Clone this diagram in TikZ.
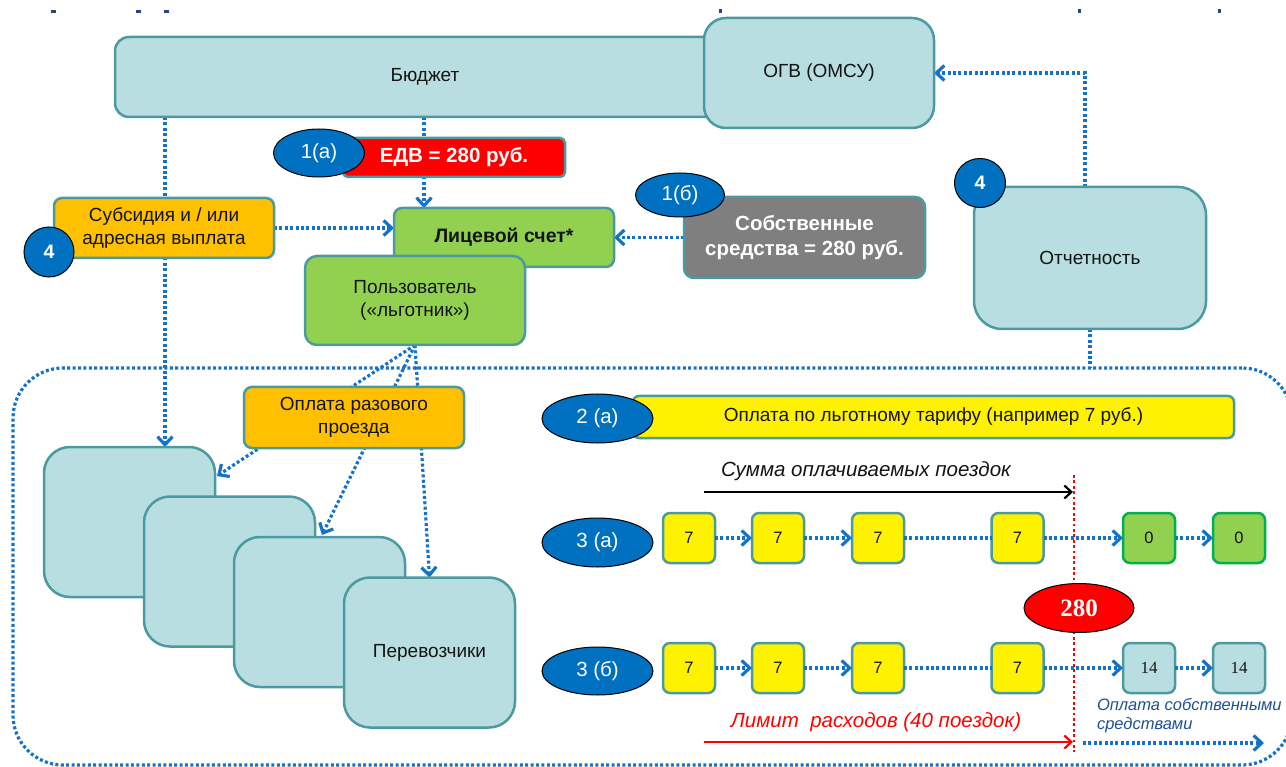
\documentclass[tikz,border=0pt]{standalone}
\usepackage{fontspec}
\setmainfont{Liberation Sans}
\newfontfamily\numserif{Liberation Serif}
\usetikzlibrary{arrows.meta,shapes.geometric}
\definecolor{lcyan}{RGB}{185,222,225}
\definecolor{tealb}{RGB}{75,154,160}
\definecolor{cblue}{RGB}{20,115,200}
\definecolor{eblue}{RGB}{0,112,192}
\definecolor{lgreen}{RGB}{146,208,80}
\definecolor{dgreen}{RGB}{0,176,80}
\definecolor{orng}{RGB}{255,192,0}
\definecolor{gry}{RGB}{127,127,127}
\definecolor{ownblue}{RGB}{31,80,150}
\definecolor{fragc}{RGB}{40,70,120}
\definecolor{txt}{RGB}{20,20,20}
\pgfdeclarelayer{bg}
\pgfsetlayers{bg,main}
\tikzset{
  every node/.style={inner sep=0pt, outer sep=0pt, align=center, text=txt,
    font=\fontsize{19}{23}\selectfont},
  tbox/.style={draw=tealb, line width=2.5pt, fill=lcyan},
  gbox/.style={draw=tealb, line width=2.5pt, fill=lgreen},
  obox/.style={draw=tealb, line width=2.5pt, fill=orng, rounded corners=8pt},
  ell/.style={ellipse, draw=black, line width=1pt, fill=eblue, text=white,
    font=\fontsize{20.5}{24}\selectfont},
  sbox/.style={draw=tealb, line width=2.5pt, rounded corners=7pt,
    minimum width=52pt, minimum height=50pt, font=\fontsize{16.5}{19}\selectfont},
  ybox/.style={sbox, fill=yellow},
  zbox/.style={sbox, fill=lgreen, draw=dgreen},
  fbox/.style={sbox, fill=lcyan, font=\numserif\fontsize{17}{19}\selectfont},
  carrier/.style={tbox, rounded corners=26pt, minimum width=171pt, minimum height=150pt},
  dotline/.style={line width=3.2pt, dash pattern=on 3pt off 2.4pt},
  conn/.style={draw=cblue, dotline, -{Straight Barb[length=8pt,width=15pt]}},
  plain/.style={draw=cblue, dotline},
}
\begin{document}
\begin{tikzpicture}[x=1pt,y=-1pt]
\useasboundingbox (0,0) rectangle (1286,767);
% small fragments at the top edge
\fill[fragc] (51,10) rectangle (56,13);
\fill[fragc] (136,10) rectangle (141,13);
\fill[fragc] (164,10) rectangle (169,13);
\fill[fragc] (719,9) rectangle (722,13);
\fill[fragc] (1078,9) rectangle (1081,13);
\fill[fragc] (1218,9) rectangle (1221,13);

% region
\node[draw=cblue, dotline, rounded corners=50pt, minimum width=1279pt,
  minimum height=397pt] (reg) at (652.5,566.5) {};

% top part
\node[tbox, rounded corners=14pt, minimum width=620pt, minimum height=80pt] (bud) at (425,77) {Бюджет};
\node[tbox, rounded corners=22pt, minimum width=230pt, minimum height=110pt] (ogv) at (819,73) {ОГВ (ОМСУ)};
\node[draw=tealb, line width=2.5pt, fill=red, rounded corners=5pt, minimum width=222pt,
  minimum height=39pt, text=white, font=\fontsize{20.5}{24}\selectfont\bfseries] (edv) at (454,157.5) {ЕДВ = 280 руб.};
\node[ell, minimum width=91pt, minimum height=48pt] (e1a) at (319,153) {1(а)};
\node[gbox, rounded corners=8pt, minimum width=220pt, minimum height=59pt,
  font=\fontsize{19.5}{23}\selectfont\bfseries] (lic) at (504,237.5) {Лицевой счет*};
\node[gbox, rounded corners=12pt, minimum width=220pt, minimum height=89pt] (pol) at (415,300.5) {Пользователь\\(«льготник»)};
\node[obox, minimum width=220pt, minimum height=60pt] (sub) at (164,228) {Субсидия и / или\\адресная выплата};
\node[ell, minimum width=50pt, minimum height=50pt, font=\fontsize{19.5}{22}\selectfont\bfseries] (e4a) at (49,252) {4};
\node[draw=tealb, line width=2.5pt, fill=gry, rounded corners=10pt, minimum width=241pt,
  minimum height=81pt, text=white, font=\fontsize{20.5}{25}\selectfont\bfseries] (sob) at (804.5,237.5) {Собственные\\средства = 280 руб.};
\node[ell, minimum width=89pt, minimum height=44pt] (e1b) at (680,195) {1(б)};
\node[tbox, rounded corners=28pt, minimum width=232pt, minimum height=142pt] (otch) at (1090,258) {Отчетность};
\node[ell, minimum width=51pt, minimum height=49pt, font=\fontsize{19.5}{22}\selectfont\bfseries] (e4b) at (980,183) {4};

% carriers
\node[carrier] (c1) at (129.5,522) {};
\node[carrier] (c2) at (229.5,571.5) {};
\node[carrier] (c3) at (319.5,612) {};
\node[carrier] (c4) at (429.5,652.5) {Перевозчики};
\node[obox, minimum width=220pt, minimum height=61pt] (opl) at (354,417.5) {Оплата разового\\проезда};

% right part
\node[draw=tealb, line width=2.5pt, fill=yellow, rounded corners=6pt, minimum width=601pt,
  minimum height=42pt] (tar) at (933.5,417) {Оплата по льготному тарифу (например 7 руб.)};
\node[ell, minimum width=111pt, minimum height=49pt] (e2a) at (597.5,418.5) {2 (а)};
\node[ell, minimum width=111pt, minimum height=49pt] (e3a) at (597.5,542.5) {3 (а)};
\node[ell, minimum width=111pt, minimum height=48pt] (e3b) at (597.5,671) {3 (б)};

\node[ybox] (a1) at (689,538) {7};
\node[ybox] (a2) at (778,538) {7};
\node[ybox] (a3) at (878,538) {7};
\node[ybox] (a4) at (1017.5,538) {7};
\node[zbox] (a5) at (1149,538) {0};
\node[zbox] (a6) at (1239,538) {0};

\node[ybox] (b1) at (689,668) {7};
\node[ybox] (b2) at (778,668) {7};
\node[ybox] (b3) at (878,668) {7};
\node[ybox] (b4) at (1017.5,668) {7};
\node[fbox] (b5) at (1149,668) {14};
\node[fbox] (b6) at (1239,668) {14};

\node[font=\fontsize{20.5}{24}\selectfont\itshape] (sumtxt) at (866,471) {Сумма оплачиваемых поездок};
\node[font=\fontsize{20.5}{24}\selectfont\itshape, text=red] (limtxt) at (876,722) {Лимит\ \ расходов (40 поездок)};
\node[anchor=north west, align=left, text=ownblue, font=\fontsize{16.5}{19}\selectfont\itshape] (owntxt) at (1097,698) {Оплата собственными\\средствами};

\coordinate (sa) at (704,492);
\coordinate (sb) at (1073,492);
\coordinate (la) at (704,742);
\coordinate (lb) at (1073,742);
\coordinate (rt) at (1074,475);
\coordinate (rb) at (1074,752);
\coordinate (oa) at (1083,743);
\coordinate (ob) at (1264,743);
\coordinate (k1) at (165,0);
\coordinate (k2) at (424,0);
\coordinate (k3) at (1085,0);
\coordinate (t1) at (217,476);
\coordinate (t2) at (322,535);

\draw[line width=2.2pt, draw=black, -{Straight Barb[length=7pt,width=13pt]}] (sa) -- (sb);
\draw[line width=2.2pt, draw=red, -{Straight Barb[length=7pt,width=13pt]}] (la) -- (lb);
\draw[conn] (a1) -- (a2);
\draw[conn] (a2) -- (a3);
\draw[plain] (a3) -- (a4);
\draw[conn] (a4) -- (a5);
\draw[conn] (a5) -- (a6);
\draw[conn] (b1) -- (b2);
\draw[conn] (b2) -- (b3);
\draw[plain] (b3) -- (b4);
\draw[conn] (b4) -- (b5);
\draw[conn] (b5) -- (b6);
\draw[conn] (oa) -- (ob);
\draw[draw=red, line width=2.8pt, dash pattern=on 2.8pt off 2.6pt] (rt) -- (rb);
\node[ellipse, draw=black, line width=1pt, fill=red, text=white, minimum width=110pt,
  minimum height=49pt, font=\numserif\fontsize{25}{28}\selectfont\bfseries] (n280) at (1079,608) {280};

\begin{pgfonlayer}{bg}
\draw[conn] (bud.south -| k1) -- (c1.north -| k1);
\draw[conn] (bud.south -| k2) -- (lic.north -| k2);
\draw[conn] (sub.east) -- (sub.east -| lic.west);
\draw[conn] (sob.west) -- (sob.west -| lic.east);
\draw[conn] (otch.north -| k3) |- (ogv.east);
\draw[plain] (otch.south) -- (otch.south |- reg.north);
\draw[conn] (pol.south) -- (t1);
\draw[conn] (pol.south) -- (t2);
\draw[conn] (pol.south) -- (c4.north);
\end{pgfonlayer}
\end{tikzpicture}
\end{document}
